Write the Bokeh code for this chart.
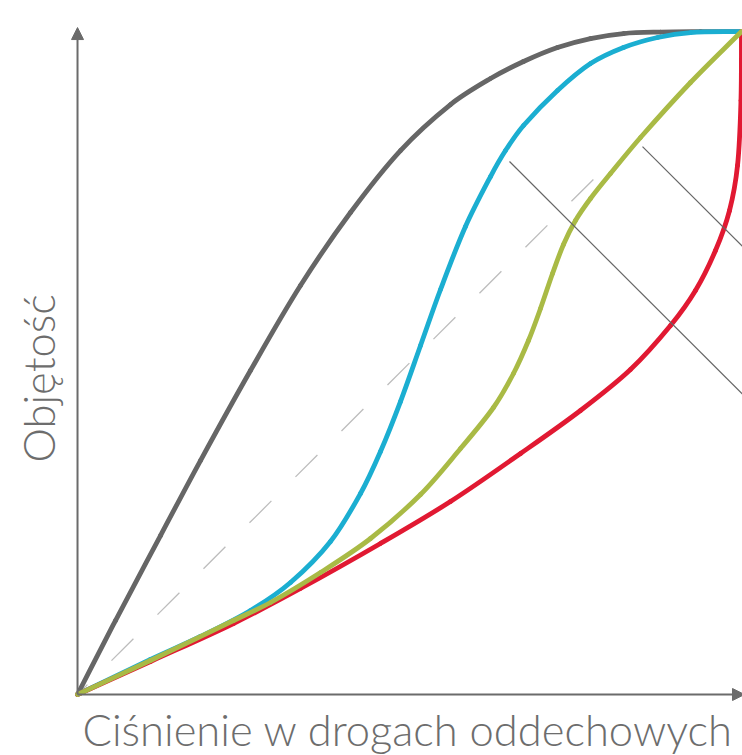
import math
from bokeh.plotting import figure
from bokeh.models import Range1d, Arrow, NormalHead, Label
from bokeh.embed import file_html
from bokeh.resources import INLINE

# Normalised pressure (x) and volume (y), 0-100
gray_x = [0, 5.72, 12.50, 18.52, 26.05, 33.58, 41.11, 48.64, 56.17, 62.20, 67.17, 72.29, 77.26, 82.23, 87.80, 93.83, 100]
gray_y = [0, 11.16, 23.98, 35.29, 48.87, 61.69, 72.70, 82.05, 88.99, 92.91, 95.48, 97.59, 98.94, 99.70, 99.92, 99.98, 100]

cyan_x = [0, 10.99, 18.52, 26.05, 32.08, 38.10, 42.62, 45.63, 48.64, 51.66, 54.67, 58.43, 62.20, 64.46, 67.17, 72.29, 77.26, 82.23, 87.35, 92.32, 100]
cyan_y = [0, 5.28, 8.75, 12.67, 16.89, 23.08, 30.32, 36.65, 44.19, 52.64, 61.09, 70.59, 78.13, 82.05, 85.82, 91.10, 95.17, 97.59, 99.10, 99.85, 100]

green_x = [0, 10.99, 23.49, 29.07, 36.60, 44.13, 51.66, 57.68, 62.65, 65.66, 67.92, 69.73, 71.54, 73.19, 75.00, 77.26, 80.27, 84.79, 92.32, 100]
green_y = [0, 5.13, 11.16, 13.88, 18.40, 23.53, 30.17, 37.10, 43.29, 48.42, 53.39, 58.22, 63.50, 67.87, 71.49, 74.81, 78.58, 84.01, 92.31, 100]

red_x = [0, 10.99, 23.49, 33.58, 45.63, 56.17, 66.72, 75.75, 83.28, 89.31, 93.07, 96.08, 98.19, 99.40, 99.92, 100]
red_y = [0, 4.98, 10.71, 15.99, 22.78, 29.11, 36.35, 42.84, 49.02, 55.66, 60.94, 66.97, 73.00, 79.79, 89.59, 100]

diag_x = [0, 77.9]
diag_y = [0, 77.9]

tick1_x = [65.06, 110]
tick1_y = [80.39, 35.45]
tick2_x = [85.09, 110]
tick2_y = [82.65, 57.74]

x_label = "Ciśnienie w drogach oddechowych"
y_label = "Objętość"

AXIS = "#6b6b6b"
TEXT = "#6d6d6d"
FONT = "Lato Light"


def smooth_segments(xs, ys):
    """Chord-length Catmull-Rom segments drawn as cubic Beziers through the read points."""
    n = len(xs)
    d = [math.hypot(xs[i + 1] - xs[i], ys[i + 1] - ys[i]) for i in range(n - 1)]
    mx, my = [], []
    for i in range(n):
        if i == 0:
            mx.append((xs[1] - xs[0]) / d[0]); my.append((ys[1] - ys[0]) / d[0])
        elif i == n - 1:
            mx.append((xs[i] - xs[i - 1]) / d[i - 1]); my.append((ys[i] - ys[i - 1]) / d[i - 1])
        else:
            s = d[i - 1] + d[i]
            mx.append((xs[i + 1] - xs[i - 1]) / s); my.append((ys[i + 1] - ys[i - 1]) / s)
    seg = dict(x0=[], y0=[], x1=[], y1=[], cx0=[], cy0=[], cx1=[], cy1=[])
    for i in range(n - 1):
        if d[i] == 0:
            continue
        seg["x0"].append(xs[i]); seg["y0"].append(ys[i])
        seg["x1"].append(xs[i + 1]); seg["y1"].append(ys[i + 1])
        seg["cx0"].append(xs[i] + mx[i] * d[i] / 3); seg["cy0"].append(ys[i] + my[i] * d[i] / 3)
        seg["cx1"].append(xs[i + 1] - mx[i + 1] * d[i] / 3); seg["cy1"].append(ys[i + 1] - my[i + 1] * d[i] / 3)
    return seg


p = figure(width=742, height=755, output_backend="svg", toolbar_location=None,
           x_range=Range1d(-11.60, 100.15), y_range=Range1d(-9.20, 104.68),
           x_axis_type=None, y_axis_type=None, min_border=0)
p.outline_line_color = None
p.background_fill_color = "white"

# axes with arrows
p.add_layout(Arrow(x_start=0, y_start=0, x_end=0, y_end=100.6, line_color=AXIS, line_width=2,
                   end=NormalHead(size=12, fill_color=AXIS, line_color=AXIS, line_width=1)))
p.add_layout(Arrow(x_start=0, y_start=0, x_end=100.45, y_end=0, line_color=AXIS, line_width=2,
                   end=NormalHead(size=12, fill_color=AXIS, line_color=AXIS, line_width=1)))

p.line(diag_x, diag_y, line_color="#bdbdbd", line_width=1.3, line_dash="31 34", line_dash_offset=17)

for xs, ys, col in [(gray_x, gray_y, "#666666"), (cyan_x, cyan_y, "#1baed1"),
                    (red_x, red_y, "#e11932"), (green_x, green_y, "#a9ba45")]:
    s = smooth_segments(xs, ys)
    p.bezier(x0=s["x0"], y0=s["y0"], x1=s["x1"], y1=s["y1"],
             cx0=s["cx0"], cy0=s["cy0"], cx1=s["cx1"], cy1=s["cy1"],
             line_color=col, line_width=4.8, line_cap="round")

p.line(tick1_x, tick1_y, line_color="#666666", line_width=1.2)
p.line(tick2_x, tick2_y, line_color="#666666", line_width=1.2)

p.add_layout(Label(x=0.75, y=-5.2, text=x_label, text_font=FONT, text_font_size="43.5px",
                   text_color=TEXT, text_baseline="alphabetic", text_align="left"))
p.add_layout(Label(x=-5.88, y=34.99, text=y_label, text_font=FONT, text_font_size="43.5px",
                   text_color=TEXT, text_baseline="alphabetic", text_align="left", angle=math.pi / 2))

open("out.html", "w").write(file_html(p, INLINE))
